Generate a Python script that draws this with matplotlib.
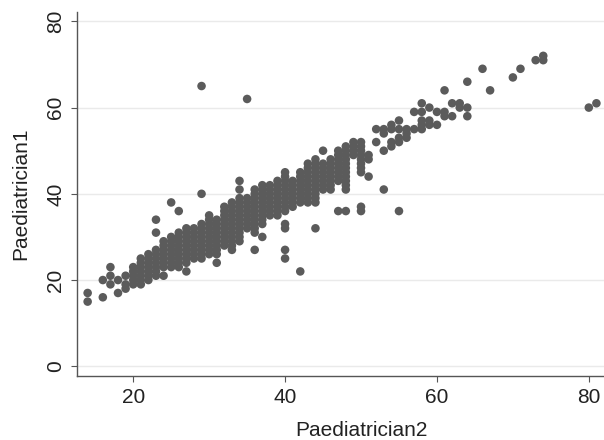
import matplotlib.pyplot as plt

# Paediatrician2 values (x) and the Paediatrician1 values (y) recorded at each one
p2_values = [14, 16, 17, 18, 19, 20, 21, 22, 23, 24, 25, 26, 27, 28, 29, 30,
             31, 32, 33, 34, 35, 36, 37, 38, 39, 40, 41, 42, 43, 44, 45, 46,
             47, 48, 49, 50, 51, 52, 53, 54, 55, 56, 57, 58, 59, 60, 61, 62,
             63, 64, 66, 67, 70, 71, 73, 74, 80, 81]
p1_at_p2 = [
    [15, 17],
    [16, 20],
    [19, 21, 23],
    [17, 20],
    [18, 19, 21],
    [19, 20, 21, 22, 23],
    [19, 20, 21, 22, 23, 24, 25],
    [20, 21, 22, 23, 24, 25, 26],
    [21, 22, 23, 24, 25, 26, 27, 31, 34],
    [21, 23, 24, 25, 26, 27, 28, 29],
    [23, 24, 25, 26, 27, 28, 29, 30, 38],
    [23, 24, 25, 26, 27, 28, 29, 30, 31, 36],
    [22, 24, 25, 26, 27, 28, 29, 30, 31, 32],
    [25, 26, 27, 28, 29, 30, 31, 32],
    [25, 26, 27, 28, 29, 30, 31, 32, 33, 40, 65],
    [26, 27, 28, 29, 30, 31, 32, 33, 34, 35],
    [24, 26, 27, 28, 29, 30, 31, 32, 33, 34],
    [28, 29, 30, 31, 32, 33, 34, 35, 36, 37],
    [27, 28, 29, 30, 31, 32, 33, 34, 35, 36, 37, 38],
    [29, 30, 31, 32, 33, 34, 35, 36, 37, 38, 39, 41, 43],
    [32, 33, 34, 35, 36, 37, 38, 39, 62],
    [27, 31, 32, 33, 34, 35, 36, 37, 38, 39, 40, 41],
    [30, 33, 34, 35, 36, 37, 38, 39, 40, 41, 42],
    [35, 36, 37, 38, 39, 40, 41, 42],
    [35, 36, 37, 38, 39, 40, 41, 42, 43],
    [25, 27, 32, 33, 36, 37, 38, 39, 40, 41, 42, 43, 44, 45],
    [37, 38, 39, 40, 41, 42, 43],
    [22, 38, 39, 40, 41, 42, 43, 44, 45],
    [38, 39, 40, 41, 42, 43, 44, 45, 46, 47],
    [32, 38, 39, 40, 41, 42, 43, 44, 45, 46, 47, 48],
    [41, 42, 43, 44, 45, 46, 47, 50],
    [41, 42, 43, 44, 45, 46, 47, 48],
    [36, 43, 44, 45, 46, 47, 48, 49, 50],
    [36, 41, 42, 43, 44, 45, 46, 47, 48, 49, 50, 51],
    [49, 50, 51, 52],
    [36, 37, 45, 46, 47, 48, 49, 50, 51, 52],
    [44, 48, 49],
    [52, 55],
    [41, 50, 54, 55],
    [51, 52, 55, 56],
    [36, 52, 53, 55, 57],
    [53, 54, 55],
    [55, 59],
    [55, 56, 57, 59, 61],
    [56, 57, 60],
    [56, 59],
    [58, 59, 64],
    [58, 61],
    [60, 61],
    [58, 60, 66],
    [69],
    [64],
    [67],
    [69],
    [71],
    [71, 72],
    [60],
    [61],
]
x_ticks = [20, 40, 60, 80]
y_ticks = [0, 20, 40, 60, 80]

xs, ys = [], []
for x, col in zip(p2_values, p1_at_p2):
    for y in col:
        xs.append(x)
        ys.append(y)

plt.rcParams['font.family'] = ['Liberation Sans', 'DejaVu Sans']

fig = plt.figure(figsize=(6.04, 4.4), dpi=100)
ax = fig.add_axes([0.1275, 0.146, 0.8725, 0.827])

ax.scatter(xs, ys, s=38, color='#5b5b5b', edgecolors='none', zorder=3)

ax.set_xlim(12.6, 82.0)
ax.set_ylim(-2.2, 82.2)
ax.set_xticks(x_ticks)
ax.set_yticks(y_ticks)
ax.grid(axis='y', color='#eaeaea', linewidth=1.0, zorder=0)
ax.grid(axis='x', visible=False)

for side in ['top', 'right']:
    ax.spines[side].set_visible(False)
for side in ['left', 'bottom']:
    ax.spines[side].set_color('#555555')
    ax.spines[side].set_linewidth(1.0)

ax.tick_params(axis='both', direction='out', length=4.5, width=0.8,
               color='#555555', labelsize=15, labelcolor='#222222', pad=4)
for lab in ax.get_yticklabels():
    lab.set_rotation(90)
    lab.set_va('center')

ax.set_xlabel('Paediatrician2', fontsize=15, color='#222222', labelpad=5)
ax.set_ylabel('Paediatrician1', fontsize=15, color='#222222', labelpad=7)
# the titles sit where the reference puts them
ax.xaxis.set_label_coords(0.54, -0.125)
ax.yaxis.set_label_coords(-0.088, 0.5)

fig.savefig('out.png', dpi=100)
